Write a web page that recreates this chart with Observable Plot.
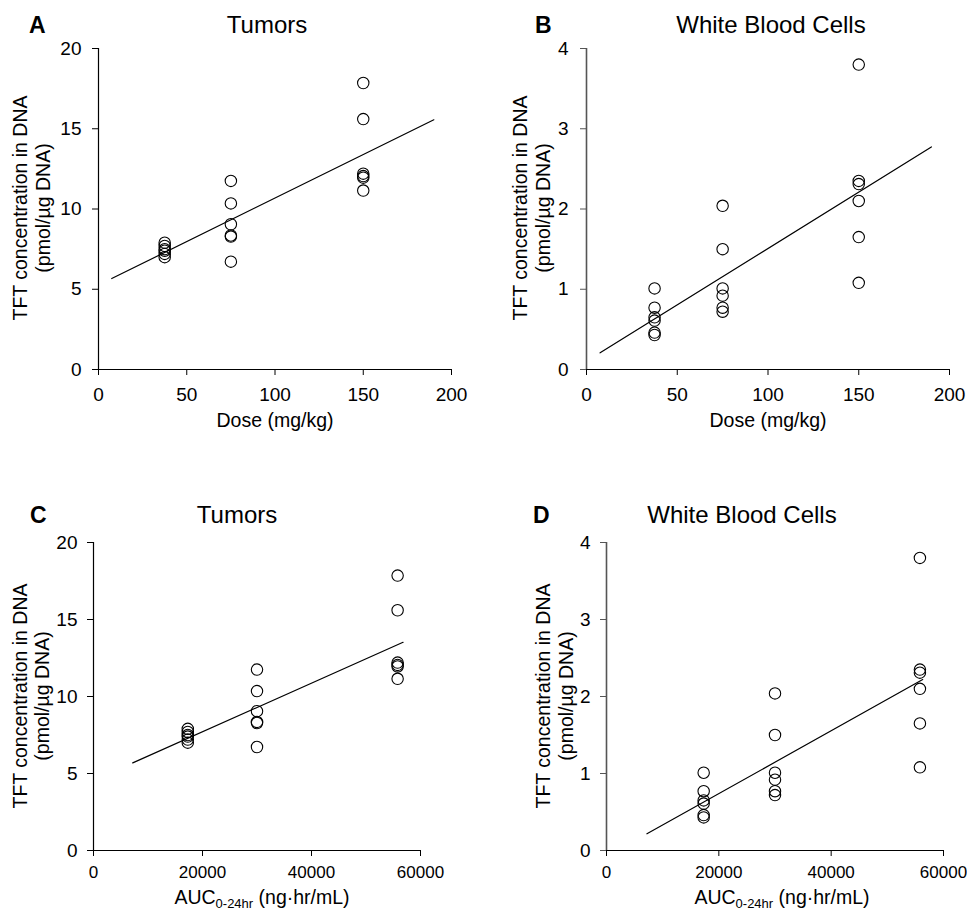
<!DOCTYPE html>
<html><head><meta charset="utf-8">
<script src="https://cdn.jsdelivr.net/npm/d3@7"></script>
<script src="https://cdn.jsdelivr.net/npm/@observablehq/plot@0.6"></script>
<style>
body{margin:0;background:#fff;}
#chart{position:relative;width:967px;height:913px;overflow:hidden;background:#fff;}
#chart svg{position:absolute;}
</style></head><body><div id="chart"></div>
<script>
// ---- data ----
const doseLevels = [37.5, 75, 150];              // mg/kg
const aucLevels = [17300, 30000, 55800];          // ng·hr/mL
const tumorValues = [
  [7.9, 7.7, 7.5, 7.4, 7.2, 7.0],
  [11.75, 10.35, 9.05, 8.35, 8.28, 6.72],
  [17.85, 15.6, 12.2, 12.05, 11.95, 11.15]
];
const wbcValues = [
  [1.01, 0.77, 0.65, 0.61, 0.46, 0.43],
  [2.04, 1.50, 1.01, 0.92, 0.77, 0.72],
  [3.80, 2.35, 2.31, 2.10, 1.65, 1.08]
];
const doseTicks = [0, 50, 100, 150, 200];
const aucTicks = [0, 20000, 40000, 60000];
const tumorTicks = [0, 5, 10, 15, 20];
const wbcTicks = [0, 1, 2, 3, 4];
// regression fits: [intercept, slope] and the x span over which each line is drawn
const fitTumorDose = [5.26, 0.0542];   const spanDose = [7.5, 190];
const fitWbcDose = [0.102, 0.01406];
const fitTumorAuc = [4.55, 0.0001579]; const spanTumorAuc = [7200, 56800];
const fitWbcAuc = [-0.077, 0.0000408]; const spanWbcAuc = [7200, 56300];
const titles = ["Tumors", "White Blood Cells", "Tumors", "White Blood Cells"];
const letters = ["A", "B", "C", "D"];
const yLabel1 = "TFT concentration in DNA";
const yLabel2 = "(pmol/µg DNA)";

const FONT = '"Liberation Sans", Arial, Helvetica, sans-serif';
const chart = document.getElementById("chart");

function addText(svg, o) {
  const t = svg.append("text")
    .attr("font-family", FONT)
    .attr("font-size", o.size)
    .attr("font-weight", o.weight || "normal")
    .attr("text-anchor", o.anchor || "middle")
    .attr("fill", "#000");
  if (o.rotate) t.attr("transform", `translate(${o.x},${o.y}) rotate(-90)`);
  else t.attr("x", o.x).attr("y", o.y);
  if (o.parts) {
    o.parts.forEach(pt => {
      const s = t.append("tspan").text(pt.text);
      if (pt.size) s.attr("font-size", pt.size);
      if (pt.dy) s.attr("dy", pt.dy);
    });
  } else t.text(o.text);
  return t;
}

function panel(c) {
  const pts = c.levels.flatMap((x, i) => c.values[i].map(y => ({x, y})));
  const fit = c.span.map(x => ({x, y: c.fit[0] + c.fit[1] * x}));
  const p = Plot.plot({
    width: c.width, height: c.height,
    marginLeft: c.ml, marginRight: c.mr, marginTop: c.mt, marginBottom: c.mb,
    x: {domain: [0, d3.max(c.xTicks)]},
    y: {domain: [0, d3.max(c.yTicks)]},
    style: {fontFamily: FONT, fontSize: "19px", color: "#000", background: "transparent", overflow: "visible"},
    marks: [
      Plot.axisX({ticks: c.xTicks, tickSize: 6, tickPadding: c.xPad, tickFormat: d => String(d), label: null, fontSize: c.xFont, stroke: "#000"}),
      Plot.axisY({ticks: c.yTicks, tickSize: 6, tickPadding: c.yPad, tickFormat: d => String(d), label: null, fontSize: 19, stroke: c.yAxisColor}),
      Plot.ruleX([0], {stroke: c.yAxisColor, strokeWidth: c.yAxisWidth}),
      Plot.ruleY([0], {stroke: "#000", strokeWidth: 1.2}),
      Plot.line(fit, {x: "x", y: "y", stroke: "#000", strokeWidth: 1.2}),
      Plot.dot(pts, {x: "x", y: "y", r: 5.7, stroke: "#000", fill: "none", strokeWidth: 1.1})
    ]
  });
  p.style.left = c.left + "px";
  p.style.top = c.top + "px";
  const svg = d3.select(p);
  addText(svg, {x: c.letterX, y: c.titleY, text: c.letter, size: 23, weight: "bold", anchor: "start"});
  addText(svg, {x: c.titleX, y: c.titleY, text: c.title, size: 24});
  addText(svg, {x: c.yl1, y: c.ylY, text: yLabel1, size: 19.5, rotate: true});
  addText(svg, {x: c.yl2, y: c.ylY, text: yLabel2, size: 19.5, rotate: true});
  if (c.xParts) addText(svg, {x: c.xlX, y: c.xlY, parts: c.xParts, size: 19.5});
  else addText(svg, {x: c.xlX, y: c.xlY, text: c.xLabel, size: 19.5});
  chart.appendChild(p);
}

const aucParts = [
  {text: "AUC"},
  {text: "0-24hr", size: 13, dy: 4},
  {text: " (ng·hr/mL)", dy: -4}
];

panel({left: 0, top: 0, width: 480, height: 440, ml: 98, mr: 29, mt: 48, mb: 71,
  levels: doseLevels, values: tumorValues, fit: fitTumorDose, span: spanDose,
  xTicks: doseTicks, yTicks: tumorTicks, xPad: 12, yPad: 11, xFont: 19, yAxisColor: "#000", yAxisWidth: 1.2,
  letter: letters[0], letterX: 29, title: titles[0], titleX: 267, titleY: 33,
  yl1: 27, yl2: 50, ylY: 208, xLabel: "Dose (mg/kg)", xlX: 275, xlY: 427});

panel({left: 480, top: 0, width: 487, height: 440, ml: 106, mr: 18, mt: 48, mb: 71,
  levels: doseLevels, values: wbcValues, fit: fitWbcDose, span: spanDose,
  xTicks: doseTicks, yTicks: wbcTicks, xPad: 12, yPad: 12, xFont: 19, yAxisColor: "#555", yAxisWidth: 1.6,
  letter: letters[1], letterX: 55, title: titles[1], titleX: 291, titleY: 33,
  yl1: 47, yl2: 70, ylY: 208, xLabel: "Dose (mg/kg)", xlX: 288, xlY: 427});

panel({left: 0, top: 460, width: 480, height: 453, ml: 93, mr: 60, mt: 82, mb: 63,
  levels: aucLevels, values: tumorValues, fit: fitTumorAuc, span: spanTumorAuc,
  xTicks: aucTicks, yTicks: tumorTicks, xPad: 9, yPad: 10, xFont: 17, yAxisColor: "#000", yAxisWidth: 1.2,
  letter: letters[2], letterX: 30, title: titles[2], titleX: 237, titleY: 63,
  yl1: 27, yl2: 49, ylY: 236, xParts: aucParts, xlX: 262, xlY: 444});

panel({left: 480, top: 460, width: 487, height: 453, ml: 126, mr: 24, mt: 82, mb: 63,
  levels: aucLevels, values: wbcValues, fit: fitWbcAuc, span: spanWbcAuc,
  xTicks: aucTicks, yTicks: wbcTicks, xPad: 9, yPad: 10, xFont: 17, yAxisColor: "#555", yAxisWidth: 1.6,
  letter: letters[3], letterX: 53, title: titles[3], titleX: 262, titleY: 63,
  yl1: 70, yl2: 93, ylY: 236, xParts: aucParts, xlX: 302, xlY: 444});
</script>
</body></html>
